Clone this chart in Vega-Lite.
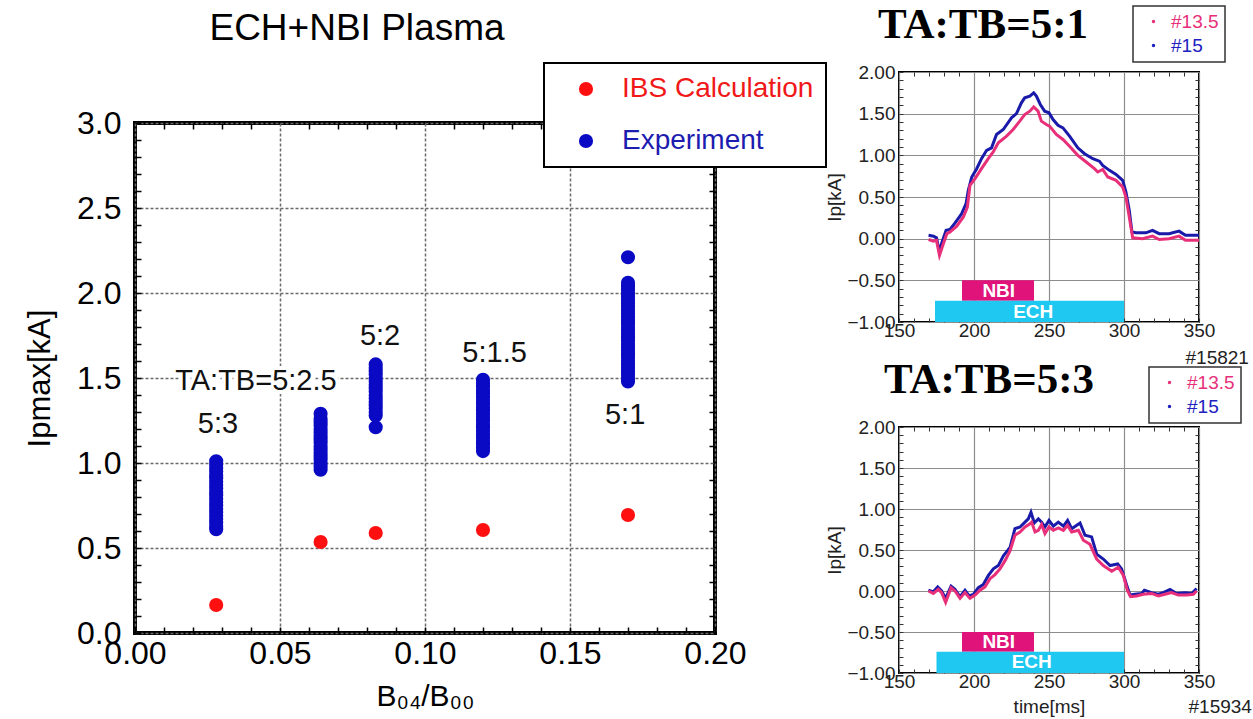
{
  "$schema": "https://vega.github.io/schema/vega-lite/v6.json",
  "background": "white",
  "padding": {"left": 22, "top": 3, "right": 5, "bottom": 5},
  "bounds": "flush",
  "spacing": 764,
  "resolve": {"scale": {"color": "independent", "fill": "independent"}, "legend": {"color": "independent"}},
  "datasets": {
    "scan": [
      {"b": 0.028, "ip": 0.165, "kind": "IBS Calculation"},
      {"b": 0.064, "ip": 0.535, "kind": "IBS Calculation"},
      {"b": 0.083, "ip": 0.588, "kind": "IBS Calculation"},
      {"b": 0.12, "ip": 0.606, "kind": "IBS Calculation"},
      {"b": 0.17, "ip": 0.694, "kind": "IBS Calculation"},
      {"b": 0.028, "ip": 0.61, "kind": "Experiment"}, {"b": 0.028, "ip": 0.63, "kind": "Experiment"}, {"b": 0.028, "ip": 0.65, "kind": "Experiment"},
      {"b": 0.028, "ip": 0.67, "kind": "Experiment"}, {"b": 0.028, "ip": 0.69, "kind": "Experiment"}, {"b": 0.028, "ip": 0.71, "kind": "Experiment"},
      {"b": 0.028, "ip": 0.73, "kind": "Experiment"}, {"b": 0.028, "ip": 0.75, "kind": "Experiment"}, {"b": 0.028, "ip": 0.77, "kind": "Experiment"},
      {"b": 0.028, "ip": 0.79, "kind": "Experiment"}, {"b": 0.028, "ip": 0.81, "kind": "Experiment"}, {"b": 0.028, "ip": 0.83, "kind": "Experiment"},
      {"b": 0.028, "ip": 0.85, "kind": "Experiment"}, {"b": 0.028, "ip": 0.87, "kind": "Experiment"}, {"b": 0.028, "ip": 0.89, "kind": "Experiment"},
      {"b": 0.028, "ip": 0.91, "kind": "Experiment"}, {"b": 0.028, "ip": 0.93, "kind": "Experiment"}, {"b": 0.028, "ip": 0.95, "kind": "Experiment"},
      {"b": 0.028, "ip": 0.97, "kind": "Experiment"}, {"b": 0.028, "ip": 0.99, "kind": "Experiment"}, {"b": 0.028, "ip": 1.01, "kind": "Experiment"},
      {"b": 0.064, "ip": 0.96, "kind": "Experiment"}, {"b": 0.064, "ip": 0.98, "kind": "Experiment"}, {"b": 0.064, "ip": 1.0, "kind": "Experiment"},
      {"b": 0.064, "ip": 1.02, "kind": "Experiment"}, {"b": 0.064, "ip": 1.04, "kind": "Experiment"}, {"b": 0.064, "ip": 1.06, "kind": "Experiment"},
      {"b": 0.064, "ip": 1.08, "kind": "Experiment"}, {"b": 0.064, "ip": 1.1, "kind": "Experiment"}, {"b": 0.064, "ip": 1.12, "kind": "Experiment"},
      {"b": 0.064, "ip": 1.14, "kind": "Experiment"}, {"b": 0.064, "ip": 1.16, "kind": "Experiment"}, {"b": 0.064, "ip": 1.18, "kind": "Experiment"},
      {"b": 0.064, "ip": 1.2, "kind": "Experiment"}, {"b": 0.064, "ip": 1.22, "kind": "Experiment"}, {"b": 0.064, "ip": 1.24, "kind": "Experiment"},
      {"b": 0.064, "ip": 1.26, "kind": "Experiment"}, {"b": 0.064, "ip": 1.29, "kind": "Experiment"},
      {"b": 0.083, "ip": 1.21, "kind": "Experiment"}, {"b": 0.083, "ip": 1.28, "kind": "Experiment"}, {"b": 0.083, "ip": 1.3, "kind": "Experiment"},
      {"b": 0.083, "ip": 1.32, "kind": "Experiment"}, {"b": 0.083, "ip": 1.34, "kind": "Experiment"}, {"b": 0.083, "ip": 1.36, "kind": "Experiment"},
      {"b": 0.083, "ip": 1.38, "kind": "Experiment"}, {"b": 0.083, "ip": 1.4, "kind": "Experiment"}, {"b": 0.083, "ip": 1.42, "kind": "Experiment"},
      {"b": 0.083, "ip": 1.44, "kind": "Experiment"}, {"b": 0.083, "ip": 1.46, "kind": "Experiment"}, {"b": 0.083, "ip": 1.48, "kind": "Experiment"},
      {"b": 0.083, "ip": 1.5, "kind": "Experiment"}, {"b": 0.083, "ip": 1.52, "kind": "Experiment"}, {"b": 0.083, "ip": 1.54, "kind": "Experiment"},
      {"b": 0.083, "ip": 1.56, "kind": "Experiment"}, {"b": 0.083, "ip": 1.58, "kind": "Experiment"},
      {"b": 0.12, "ip": 1.07, "kind": "Experiment"}, {"b": 0.12, "ip": 1.09, "kind": "Experiment"}, {"b": 0.12, "ip": 1.11, "kind": "Experiment"},
      {"b": 0.12, "ip": 1.13, "kind": "Experiment"}, {"b": 0.12, "ip": 1.15, "kind": "Experiment"}, {"b": 0.12, "ip": 1.17, "kind": "Experiment"},
      {"b": 0.12, "ip": 1.19, "kind": "Experiment"}, {"b": 0.12, "ip": 1.21, "kind": "Experiment"}, {"b": 0.12, "ip": 1.23, "kind": "Experiment"},
      {"b": 0.12, "ip": 1.25, "kind": "Experiment"}, {"b": 0.12, "ip": 1.27, "kind": "Experiment"}, {"b": 0.12, "ip": 1.29, "kind": "Experiment"},
      {"b": 0.12, "ip": 1.31, "kind": "Experiment"}, {"b": 0.12, "ip": 1.33, "kind": "Experiment"}, {"b": 0.12, "ip": 1.35, "kind": "Experiment"},
      {"b": 0.12, "ip": 1.37, "kind": "Experiment"}, {"b": 0.12, "ip": 1.39, "kind": "Experiment"}, {"b": 0.12, "ip": 1.41, "kind": "Experiment"},
      {"b": 0.12, "ip": 1.43, "kind": "Experiment"}, {"b": 0.12, "ip": 1.45, "kind": "Experiment"}, {"b": 0.12, "ip": 1.47, "kind": "Experiment"},
      {"b": 0.12, "ip": 1.49, "kind": "Experiment"},
      {"b": 0.17, "ip": 1.48, "kind": "Experiment"}, {"b": 0.17, "ip": 1.5, "kind": "Experiment"}, {"b": 0.17, "ip": 1.52, "kind": "Experiment"},
      {"b": 0.17, "ip": 1.54, "kind": "Experiment"}, {"b": 0.17, "ip": 1.56, "kind": "Experiment"}, {"b": 0.17, "ip": 1.58, "kind": "Experiment"},
      {"b": 0.17, "ip": 1.6, "kind": "Experiment"}, {"b": 0.17, "ip": 1.62, "kind": "Experiment"}, {"b": 0.17, "ip": 1.64, "kind": "Experiment"},
      {"b": 0.17, "ip": 1.66, "kind": "Experiment"}, {"b": 0.17, "ip": 1.68, "kind": "Experiment"}, {"b": 0.17, "ip": 1.7, "kind": "Experiment"},
      {"b": 0.17, "ip": 1.72, "kind": "Experiment"}, {"b": 0.17, "ip": 1.74, "kind": "Experiment"}, {"b": 0.17, "ip": 1.76, "kind": "Experiment"},
      {"b": 0.17, "ip": 1.78, "kind": "Experiment"}, {"b": 0.17, "ip": 1.8, "kind": "Experiment"}, {"b": 0.17, "ip": 1.82, "kind": "Experiment"},
      {"b": 0.17, "ip": 1.84, "kind": "Experiment"}, {"b": 0.17, "ip": 1.86, "kind": "Experiment"}, {"b": 0.17, "ip": 1.88, "kind": "Experiment"},
      {"b": 0.17, "ip": 1.9, "kind": "Experiment"}, {"b": 0.17, "ip": 1.92, "kind": "Experiment"}, {"b": 0.17, "ip": 1.94, "kind": "Experiment"},
      {"b": 0.17, "ip": 1.96, "kind": "Experiment"}, {"b": 0.17, "ip": 1.98, "kind": "Experiment"}, {"b": 0.17, "ip": 2.0, "kind": "Experiment"},
      {"b": 0.17, "ip": 2.02, "kind": "Experiment"}, {"b": 0.17, "ip": 2.04, "kind": "Experiment"}, {"b": 0.17, "ip": 2.06, "kind": "Experiment"},
      {"b": 0.17, "ip": 2.21, "kind": "Experiment"}
    ],
    "ratios": [
      {"b": 0.0286, "ip": 1.23, "txt": "5:3"},
      {"b": 0.0417, "ip": 1.48, "txt": "TA:TB=5:2.5"},
      {"b": 0.0845, "ip": 1.75, "txt": "5:2"},
      {"b": 0.124, "ip": 1.65, "txt": "5:1.5"},
      {"b": 0.169, "ip": 1.28, "txt": "5:1"}
    ],
    "shot51": [
      {"t": 169.7, "v": 0.04, "shot": "#15"}, {"t": 173, "v": 0.03, "shot": "#15"}, {"t": 175, "v": 0.01, "shot": "#15"},
      {"t": 177, "v": -0.16, "shot": "#15"}, {"t": 178.5, "v": -0.05, "shot": "#15"}, {"t": 181.4, "v": 0.1, "shot": "#15"},
      {"t": 184, "v": 0.11, "shot": "#15"}, {"t": 187.4, "v": 0.19, "shot": "#15"}, {"t": 191.8, "v": 0.3, "shot": "#15"},
      {"t": 194.7, "v": 0.42, "shot": "#15"}, {"t": 196.2, "v": 0.58, "shot": "#15"}, {"t": 198.5, "v": 0.74, "shot": "#15"},
      {"t": 201.8, "v": 0.84, "shot": "#15"}, {"t": 205, "v": 0.96, "shot": "#15"}, {"t": 208.4, "v": 1.06, "shot": "#15"},
      {"t": 211.7, "v": 1.09, "shot": "#15"}, {"t": 215, "v": 1.25, "shot": "#15"}, {"t": 219.5, "v": 1.31, "shot": "#15"},
      {"t": 225, "v": 1.45, "shot": "#15"}, {"t": 228.3, "v": 1.5, "shot": "#15"}, {"t": 231.6, "v": 1.63, "shot": "#15"},
      {"t": 233.8, "v": 1.69, "shot": "#15"}, {"t": 237.2, "v": 1.71, "shot": "#15"}, {"t": 239.8, "v": 1.75, "shot": "#15"},
      {"t": 241.6, "v": 1.71, "shot": "#15"}, {"t": 244.2, "v": 1.61, "shot": "#15"}, {"t": 247.1, "v": 1.53, "shot": "#15"},
      {"t": 250, "v": 1.51, "shot": "#15"}, {"t": 252.7, "v": 1.43, "shot": "#15"}, {"t": 256, "v": 1.36, "shot": "#15"},
      {"t": 259.3, "v": 1.33, "shot": "#15"}, {"t": 263.7, "v": 1.23, "shot": "#15"}, {"t": 269.2, "v": 1.09, "shot": "#15"},
      {"t": 273.7, "v": 1.02, "shot": "#15"}, {"t": 279.2, "v": 0.96, "shot": "#15"}, {"t": 283.6, "v": 0.93, "shot": "#15"},
      {"t": 285.8, "v": 0.88, "shot": "#15"}, {"t": 290.3, "v": 0.82, "shot": "#15"}, {"t": 294.7, "v": 0.77, "shot": "#15"},
      {"t": 299.1, "v": 0.7, "shot": "#15"}, {"t": 301.3, "v": 0.56, "shot": "#15"}, {"t": 303.5, "v": 0.34, "shot": "#15"},
      {"t": 305.3, "v": 0.08, "shot": "#15"}, {"t": 308, "v": 0.07, "shot": "#15"}, {"t": 314.6, "v": 0.07, "shot": "#15"},
      {"t": 319, "v": 0.1, "shot": "#15"}, {"t": 323.5, "v": 0.06, "shot": "#15"}, {"t": 330, "v": 0.06, "shot": "#15"},
      {"t": 336.7, "v": 0.09, "shot": "#15"}, {"t": 341, "v": 0.04, "shot": "#15"}, {"t": 350, "v": 0.04, "shot": "#15"},
      {"t": 169.7, "v": -0.01, "shot": "#13.5"}, {"t": 173, "v": -0.03, "shot": "#13.5"}, {"t": 175, "v": -0.02, "shot": "#13.5"},
      {"t": 177, "v": -0.2, "shot": "#13.5"}, {"t": 179, "v": -0.09, "shot": "#13.5"}, {"t": 181.9, "v": 0.06, "shot": "#13.5"},
      {"t": 184, "v": 0.08, "shot": "#13.5"}, {"t": 188.5, "v": 0.15, "shot": "#13.5"}, {"t": 192.9, "v": 0.26, "shot": "#13.5"},
      {"t": 195.6, "v": 0.38, "shot": "#13.5"}, {"t": 197.3, "v": 0.64, "shot": "#13.5"}, {"t": 200.7, "v": 0.72, "shot": "#13.5"},
      {"t": 205, "v": 0.84, "shot": "#13.5"}, {"t": 209.5, "v": 0.96, "shot": "#13.5"}, {"t": 212.8, "v": 1.04, "shot": "#13.5"},
      {"t": 216.2, "v": 1.15, "shot": "#13.5"}, {"t": 221.7, "v": 1.23, "shot": "#13.5"}, {"t": 226.1, "v": 1.31, "shot": "#13.5"},
      {"t": 230.5, "v": 1.41, "shot": "#13.5"}, {"t": 233.8, "v": 1.49, "shot": "#13.5"}, {"t": 237.2, "v": 1.53, "shot": "#13.5"},
      {"t": 239.8, "v": 1.58, "shot": "#13.5"}, {"t": 242.7, "v": 1.53, "shot": "#13.5"}, {"t": 244.9, "v": 1.41, "shot": "#13.5"},
      {"t": 248.2, "v": 1.37, "shot": "#13.5"}, {"t": 250.4, "v": 1.35, "shot": "#13.5"}, {"t": 254.9, "v": 1.25, "shot": "#13.5"},
      {"t": 259.3, "v": 1.19, "shot": "#13.5"}, {"t": 263.7, "v": 1.11, "shot": "#13.5"}, {"t": 269.2, "v": 1.0, "shot": "#13.5"},
      {"t": 274.8, "v": 0.92, "shot": "#13.5"}, {"t": 280.3, "v": 0.84, "shot": "#13.5"}, {"t": 282.5, "v": 0.8, "shot": "#13.5"},
      {"t": 285.8, "v": 0.83, "shot": "#13.5"}, {"t": 289.2, "v": 0.74, "shot": "#13.5"}, {"t": 294.7, "v": 0.7, "shot": "#13.5"},
      {"t": 299.1, "v": 0.62, "shot": "#13.5"}, {"t": 301.3, "v": 0.5, "shot": "#13.5"}, {"t": 303.5, "v": 0.26, "shot": "#13.5"},
      {"t": 305.8, "v": 0.01, "shot": "#13.5"}, {"t": 312.4, "v": 0.0, "shot": "#13.5"}, {"t": 319, "v": 0.03, "shot": "#13.5"},
      {"t": 323.5, "v": -0.01, "shot": "#13.5"}, {"t": 330, "v": 0.0, "shot": "#13.5"}, {"t": 336.7, "v": 0.03, "shot": "#13.5"},
      {"t": 341, "v": -0.02, "shot": "#13.5"}, {"t": 350, "v": -0.02, "shot": "#13.5"}
    ],
    "shot53": [
      {"t": 169.6, "v": 0.01, "shot": "#15"}, {"t": 172.9, "v": -0.01, "shot": "#15"}, {"t": 175.8, "v": 0.05, "shot": "#15"},
      {"t": 178.4, "v": 0.0, "shot": "#15"}, {"t": 181.1, "v": -0.09, "shot": "#15"}, {"t": 184.7, "v": 0.06, "shot": "#15"},
      {"t": 187.3, "v": 0.02, "shot": "#15"}, {"t": 190.7, "v": -0.07, "shot": "#15"}, {"t": 194, "v": 0.01, "shot": "#15"},
      {"t": 196.7, "v": -0.06, "shot": "#15"}, {"t": 199.6, "v": -0.04, "shot": "#15"}, {"t": 202.9, "v": 0.04, "shot": "#15"},
      {"t": 206.2, "v": 0.08, "shot": "#15"}, {"t": 209.6, "v": 0.19, "shot": "#15"}, {"t": 212.9, "v": 0.27, "shot": "#15"},
      {"t": 216.2, "v": 0.31, "shot": "#15"}, {"t": 219.6, "v": 0.43, "shot": "#15"}, {"t": 224, "v": 0.53, "shot": "#15"},
      {"t": 227.3, "v": 0.76, "shot": "#15"}, {"t": 230.7, "v": 0.78, "shot": "#15"}, {"t": 234, "v": 0.84, "shot": "#15"},
      {"t": 236.2, "v": 0.88, "shot": "#15"}, {"t": 238, "v": 0.96, "shot": "#15"}, {"t": 240.2, "v": 0.83, "shot": "#15"},
      {"t": 242.9, "v": 0.88, "shot": "#15"}, {"t": 245.1, "v": 0.84, "shot": "#15"}, {"t": 247.3, "v": 0.78, "shot": "#15"},
      {"t": 250, "v": 0.86, "shot": "#15"}, {"t": 252.9, "v": 0.79, "shot": "#15"}, {"t": 256.2, "v": 0.84, "shot": "#15"},
      {"t": 259.6, "v": 0.79, "shot": "#15"}, {"t": 262.4, "v": 0.86, "shot": "#15"}, {"t": 265.1, "v": 0.76, "shot": "#15"},
      {"t": 270.7, "v": 0.83, "shot": "#15"}, {"t": 274, "v": 0.68, "shot": "#15"}, {"t": 278.4, "v": 0.66, "shot": "#15"},
      {"t": 281.8, "v": 0.45, "shot": "#15"}, {"t": 286.2, "v": 0.39, "shot": "#15"}, {"t": 290.7, "v": 0.31, "shot": "#15"},
      {"t": 295.8, "v": 0.33, "shot": "#15"}, {"t": 298.4, "v": 0.27, "shot": "#15"}, {"t": 301.8, "v": 0.07, "shot": "#15"},
      {"t": 304, "v": -0.05, "shot": "#15"}, {"t": 307.3, "v": -0.04, "shot": "#15"}, {"t": 311.8, "v": -0.03, "shot": "#15"},
      {"t": 313.6, "v": 0.01, "shot": "#15"}, {"t": 318.4, "v": -0.02, "shot": "#15"}, {"t": 322.9, "v": -0.04, "shot": "#15"},
      {"t": 326.2, "v": -0.02, "shot": "#15"}, {"t": 330.7, "v": 0.02, "shot": "#15"}, {"t": 335.1, "v": -0.03, "shot": "#15"},
      {"t": 340.7, "v": -0.02, "shot": "#15"}, {"t": 345.1, "v": -0.03, "shot": "#15"}, {"t": 348.4, "v": 0.03, "shot": "#15"},
      {"t": 169.6, "v": 0.0, "shot": "#13.5"}, {"t": 172.9, "v": -0.03, "shot": "#13.5"}, {"t": 176.2, "v": 0.02, "shot": "#13.5"},
      {"t": 178.4, "v": -0.02, "shot": "#13.5"}, {"t": 181.1, "v": -0.14, "shot": "#13.5"}, {"t": 184.7, "v": 0.04, "shot": "#13.5"},
      {"t": 187.3, "v": 0.0, "shot": "#13.5"}, {"t": 190.7, "v": -0.09, "shot": "#13.5"}, {"t": 194, "v": -0.02, "shot": "#13.5"},
      {"t": 197.3, "v": -0.09, "shot": "#13.5"}, {"t": 200.7, "v": -0.05, "shot": "#13.5"}, {"t": 204, "v": 0.01, "shot": "#13.5"},
      {"t": 207.3, "v": 0.05, "shot": "#13.5"}, {"t": 210.7, "v": 0.15, "shot": "#13.5"}, {"t": 214, "v": 0.2, "shot": "#13.5"},
      {"t": 217.3, "v": 0.27, "shot": "#13.5"}, {"t": 220.7, "v": 0.37, "shot": "#13.5"}, {"t": 224, "v": 0.49, "shot": "#13.5"},
      {"t": 227.3, "v": 0.68, "shot": "#13.5"}, {"t": 230.7, "v": 0.72, "shot": "#13.5"}, {"t": 234, "v": 0.78, "shot": "#13.5"},
      {"t": 237.3, "v": 0.82, "shot": "#13.5"}, {"t": 238.4, "v": 0.84, "shot": "#13.5"}, {"t": 240.7, "v": 0.72, "shot": "#13.5"},
      {"t": 242.9, "v": 0.74, "shot": "#13.5"}, {"t": 245.1, "v": 0.81, "shot": "#13.5"}, {"t": 247.3, "v": 0.7, "shot": "#13.5"},
      {"t": 250, "v": 0.78, "shot": "#13.5"}, {"t": 252.9, "v": 0.74, "shot": "#13.5"}, {"t": 256.2, "v": 0.77, "shot": "#13.5"},
      {"t": 259.6, "v": 0.74, "shot": "#13.5"}, {"t": 262.4, "v": 0.8, "shot": "#13.5"}, {"t": 265.1, "v": 0.72, "shot": "#13.5"},
      {"t": 269.6, "v": 0.74, "shot": "#13.5"}, {"t": 272.9, "v": 0.62, "shot": "#13.5"}, {"t": 277.3, "v": 0.57, "shot": "#13.5"},
      {"t": 281.8, "v": 0.39, "shot": "#13.5"}, {"t": 286.2, "v": 0.31, "shot": "#13.5"}, {"t": 291.8, "v": 0.24, "shot": "#13.5"},
      {"t": 296.2, "v": 0.29, "shot": "#13.5"}, {"t": 299.6, "v": 0.19, "shot": "#13.5"}, {"t": 302.2, "v": 0.01, "shot": "#13.5"},
      {"t": 304.4, "v": -0.07, "shot": "#13.5"}, {"t": 308.4, "v": -0.06, "shot": "#13.5"}, {"t": 312.9, "v": -0.04, "shot": "#13.5"},
      {"t": 318.4, "v": -0.03, "shot": "#13.5"}, {"t": 322.9, "v": -0.06, "shot": "#13.5"}, {"t": 327.3, "v": -0.04, "shot": "#13.5"},
      {"t": 331.8, "v": -0.02, "shot": "#13.5"}, {"t": 336.2, "v": -0.05, "shot": "#13.5"}, {"t": 341.8, "v": -0.05, "shot": "#13.5"},
      {"t": 346.2, "v": -0.04, "shot": "#13.5"}, {"t": 348.4, "v": 0.0, "shot": "#13.5"}
    ],
    "heat51": [
      {"band": "NBI", "t0": 192, "t1": 240, "v0": -0.5, "v1": -0.745, "tm": 216.5, "vm": -0.63},
      {"band": "ECH", "t0": 174, "t1": 300, "v0": -0.745, "v1": -1.0, "tm": 239.5, "vm": -0.88}
    ],
    "heat53": [
      {"band": "NBI", "t0": 192, "t1": 240, "v0": -0.5, "v1": -0.74, "tm": 216.5, "vm": -0.62},
      {"band": "ECH", "t0": 175, "t1": 300, "v0": -0.74, "v1": -1.0, "tm": 238.5, "vm": -0.87}
    ]
  },
  "hconcat": [
    {
      "bounds": "flush",
      "spacing": 0,
      "vconcat": [
        {
          "width": 580,
          "height": 51,
          "view": {"stroke": null},
          "data": {"values": [{}]},
          "mark": {"type": "point", "opacity": 0},
          "encoding": {}
        },
        {
          "width": 580,
          "height": 510,
          "view": {"stroke": "black", "strokeWidth": 4},
          "title": {"text": "ECH+NBI Plasma", "font": "Liberation Sans", "fontSize": 37, "fontWeight": "normal", "color": "black", "anchor": "middle", "dx": -68, "offset": 30, "frame": "group", "baseline": "alphabetic"},
          "resolve": {"axis": {"x": "independent", "y": "independent"}},
          "layer": [
            {
              "data": {"name": "scan"},
              "mark": {"type": "circle", "size": 200, "opacity": 1},
              "encoding": {
                "x": {"field": "b", "type": "quantitative", "scale": {"domain": [0, 0.2], "nice": false, "zero": false},
                  "axis": {"orient": "bottom", "values": [0, 0.01, 0.02, 0.03, 0.04, 0.05, 0.06, 0.07, 0.08, 0.09, 0.1, 0.11, 0.12, 0.13, 0.14, 0.15, 0.16, 0.17, 0.18, 0.19, 0.2],
                    "labelExpr": "abs(datum.value*20-round(datum.value*20))<0.001 ? format(datum.value,'.2f') : ''",
                    "labelFont": "Liberation Sans", "labelFontSize": 32, "labelColor": "black", "labelPadding": 11, "labelFlush": false,
                    "tickSize": -6, "tickColor": "black", "tickWidth": 1.5, "domain": false,
                    "grid": true, "gridColor": "#6a6a6a", "gridDash": [3, 2], "gridWidth": 1.5,
                    "gridOpacity": {"condition": {"test": "abs(datum.value*20-round(datum.value*20))<0.001", "value": 1}, "value": 0},
                    "title": "B₀₄/B₀₀", "titleFont": "Liberation Sans", "titleFontSize": 30, "titleFontWeight": "normal", "titleColor": "black", "titlePadding": 12}},
                "y": {"field": "ip", "type": "quantitative", "scale": {"domain": [0, 3], "nice": false, "zero": false},
                  "axis": {"orient": "left", "values": [0, 0.1, 0.2, 0.3, 0.4, 0.5, 0.6, 0.7, 0.8, 0.9, 1, 1.1, 1.2, 1.3, 1.4, 1.5, 1.6, 1.7, 1.8, 1.9, 2, 2.1, 2.2, 2.3, 2.4, 2.5, 2.6, 2.7, 2.8, 2.9, 3],
                    "labelExpr": "abs(datum.value*2-round(datum.value*2))<0.001 ? format(datum.value,'.1f') : ''",
                    "labelFont": "Liberation Sans", "labelFontSize": 32, "labelColor": "black", "labelPadding": 20, "labelFlush": false,
                    "tickSize": -6, "tickColor": "black", "tickWidth": 1.5, "domain": false,
                    "grid": true, "gridColor": "#6a6a6a", "gridDash": [3, 2], "gridWidth": 1.5,
                    "gridOpacity": {"condition": {"test": "abs(datum.value*2-round(datum.value*2))<0.001", "value": 1}, "value": 0},
                    "title": "Ipmax[kA]", "titleFont": "Liberation Sans", "titleFontSize": 31, "titleFontWeight": "normal", "titleColor": "black", "titlePadding": 20}},
                "color": {"field": "kind", "type": "nominal",
                  "scale": {"domain": ["IBS Calculation", "Experiment"], "range": ["#ff1010", "#0a0ac4"]},
                  "legend": {"orient": "none", "legendX": 409, "legendY": -9, "title": null,
                    "fillColor": "white", "strokeColor": "black", "padding": 12,
                    "labelFont": "Liberation Sans", "labelFontSize": 28, "labelOffset": 22, "rowPadding": 24, "labelLimit": 400,
                    "symbolType": "circle", "symbolSize": 200, "symbolOffset": 16, "symbolOpacity": 1,
                    "encode": {
                      "legend": {"update": {"strokeWidth": {"value": 2}}},
                      "labels": {"update": {"fill": {"signal": "datum.value === 'Experiment' ? '#1c1cb0' : '#f01818'"}}}}}}
              }
            },
            {
              "data": {"name": "ratios"},
              "mark": {"type": "text", "font": "Liberation Sans", "fontSize": 29, "stroke": "white", "strokeWidth": 8, "fill": "white", "baseline": "middle"},
              "encoding": {
                "x": {"field": "b", "type": "quantitative", "scale": {"domain": [0, 0.2], "nice": false, "zero": false},
                  "axis": {"orient": "top", "values": [0.01, 0.02, 0.03, 0.04, 0.06, 0.07, 0.08, 0.09, 0.11, 0.12, 0.13, 0.14, 0.16, 0.17, 0.18, 0.19],
                    "labels": false, "tickSize": -6, "tickColor": "black", "tickWidth": 1.5, "domain": false, "grid": false, "title": null}},
                "y": {"field": "ip", "type": "quantitative", "scale": {"domain": [0, 3], "nice": false, "zero": false},
                  "axis": {"orient": "right", "values": [0.1, 0.2, 0.3, 0.4, 0.6, 0.7, 0.8, 0.9, 1.1, 1.2, 1.3, 1.4, 1.6, 1.7, 1.8, 1.9, 2.1, 2.2, 2.3, 2.4, 2.6, 2.7, 2.8, 2.9],
                    "labels": false, "tickSize": -6, "tickColor": "black", "tickWidth": 1.5, "domain": false, "grid": false, "title": null}},
                "text": {"field": "txt"}
              }
            },
            {
              "data": {"name": "ratios"},
              "mark": {"type": "text", "font": "Liberation Sans", "fontSize": 29, "fill": "#111111", "baseline": "middle"},
              "encoding": {
                "x": {"field": "b", "type": "quantitative", "scale": {"domain": [0, 0.2], "nice": false, "zero": false}, "axis": null},
                "y": {"field": "ip", "type": "quantitative", "scale": {"domain": [0, 3], "nice": false, "zero": false}, "axis": null},
                "text": {"field": "txt"}
              }
            }
          ]
        }
      ]
    },
    {
      "bounds": "flush",
      "spacing": 105,
      "resolve": {"scale": {"color": "independent", "fill": "independent"}, "legend": {"color": "independent"}},
      "vconcat": [
        {
          "width": 300,
          "height": 250,
          "view": {"stroke": "black", "strokeWidth": 2},
          "title": {"text": "TA:TB=5:1", "font": "Liberation Serif", "fontSize": 43, "fontWeight": "bold", "color": "black", "anchor": "start", "dx": -21, "offset": -76, "frame": "group", "baseline": "alphabetic"},
          "resolve": {"axis": {"x": "independent", "y": "independent"}},
          "layer": [
            {
              "data": {"name": "heat51"},
              "mark": {"type": "rect"},
              "encoding": {
                "x": {"field": "t0", "type": "quantitative", "scale": {"domain": [150, 350], "nice": false, "zero": false}, "axis": null},
                "x2": {"field": "t1"},
                "y": {"field": "v0", "type": "quantitative", "scale": {"domain": [-1, 2], "nice": false, "zero": false}, "axis": null},
                "y2": {"field": "v1"},
                "fill": {"field": "band", "type": "nominal", "scale": {"domain": ["NBI", "ECH"], "range": ["#e0137a", "#1ec8f0"]}, "legend": null}
              }
            },
            {
              "data": {"name": "heat51"},
              "mark": {"type": "text", "font": "Liberation Sans", "fontSize": 19, "fontWeight": "bold", "fill": "white", "baseline": "middle"},
              "encoding": {
                "x": {"field": "tm", "type": "quantitative", "scale": {"domain": [150, 350], "nice": false, "zero": false},
                  "axis": {"orient": "top", "values": [160, 170, 180, 190, 210, 220, 230, 240, 260, 270, 280, 290, 310, 320, 330, 340],
                    "labels": false, "tickSize": -4, "tickColor": "#333333", "domain": false, "grid": false, "title": null}},
                "y": {"field": "vm", "type": "quantitative", "scale": {"domain": [-1, 2], "nice": false, "zero": false},
                  "axis": {"orient": "right", "values": [-0.9, -0.8, -0.7, -0.6, -0.4, -0.3, -0.2, -0.1, 0.1, 0.2, 0.3, 0.4, 0.6, 0.7, 0.8, 0.9, 1.1, 1.2, 1.3, 1.4, 1.6, 1.7, 1.8, 1.9],
                    "labels": false, "tickSize": -4, "tickColor": "#333333", "domain": false, "grid": false, "title": null}},
                "text": {"field": "band"}
              }
            },
            {
              "data": {"name": "shot51"},
              "mark": {"type": "line", "strokeWidth": 3, "interpolate": "linear"},
              "encoding": {
                "x": {"field": "t", "type": "quantitative", "scale": {"domain": [150, 350], "nice": false, "zero": false},
                  "axis": {"orient": "bottom", "values": [150, 160, 170, 180, 190, 200, 210, 220, 230, 240, 250, 260, 270, 280, 290, 300, 310, 320, 330, 340, 350],
                    "labelExpr": "datum.value % 50 === 0 ? format(datum.value,'d') : ''",
                    "labelFont": "Liberation Sans", "labelFontSize": 19, "labelColor": "#222222", "labelPadding": 3, "labelFlush": false,
                    "tickSize": -4, "tickColor": "#333333", "domain": false,
                    "grid": true, "gridColor": "#8c8c8c", "gridWidth": 1.2,
                    "gridOpacity": {"condition": {"test": "datum.value % 50 === 0", "value": 1}, "value": 0},
                    "title": null}},
                "y": {"field": "v", "type": "quantitative", "scale": {"domain": [-1, 2], "nice": false, "zero": false},
                  "axis": {"orient": "left", "values": [-1, -0.9, -0.8, -0.7, -0.6, -0.5, -0.4, -0.3, -0.2, -0.1, 0, 0.1, 0.2, 0.3, 0.4, 0.5, 0.6, 0.7, 0.8, 0.9, 1, 1.1, 1.2, 1.3, 1.4, 1.5, 1.6, 1.7, 1.8, 1.9, 2],
                    "labelExpr": "abs(datum.value*2-round(datum.value*2))<0.001 ? format(datum.value,'.2f') : ''",
                    "labelFont": "Liberation Sans", "labelFontSize": 19, "labelColor": "#222222", "labelPadding": 8, "labelFlush": false,
                    "tickSize": -4, "tickColor": "#333333", "domain": false,
                    "grid": true, "gridColor": "#8c8c8c", "gridWidth": 1.2,
                    "gridOpacity": {"condition": {"test": "abs(datum.value*2-round(datum.value*2))<0.001", "value": 1}, "value": 0},
                    "title": "Ip[kA]", "titleFont": "Liberation Sans", "titleFontSize": 19, "titleFontWeight": "normal", "titleColor": "#222222", "titlePadding": 2}},
                "color": {"field": "shot", "type": "nominal",
                  "scale": {"domain": ["#13.5", "#15"], "range": ["#e8307a", "#1a1aaa"]},
                  "legend": {"orient": "none", "legendX": 234, "legendY": -66, "title": null,
                    "fillColor": "white", "strokeColor": "#333333", "padding": 6,
                    "labelFont": "Liberation Sans", "labelFontSize": 19, "labelOffset": 8, "rowPadding": 4,
                    "symbolType": "circle", "symbolSize": 12, "symbolOffset": 5, "symbolStrokeWidth": 0,
                    "encode": {
                      "legend": {"update": {"strokeWidth": {"value": 1.5}}},
                      "labels": {"update": {"fill": {"signal": "datum.value === '#15' ? '#2020c0' : '#e8307a'"}}},
                      "symbols": {"update": {"fill": {"signal": "datum.value === '#15' ? '#2020c0' : '#e8307a'"}}}}}}
              }
            },
            {
              "data": {"values": [{"t": 341, "v": -1.43, "lab": "#15821"}]},
              "mark": {"type": "text", "font": "Liberation Sans", "fontSize": 19, "fill": "#222222", "align": "left", "baseline": "middle"},
              "encoding": {
                "x": {"field": "t", "type": "quantitative", "scale": {"domain": [150, 350], "nice": false, "zero": false}, "axis": null},
                "y": {"field": "v", "type": "quantitative", "scale": {"domain": [-1, 2], "nice": false, "zero": false}, "axis": null},
                "text": {"field": "lab"}
              }
            }
          ]
        },
        {
          "width": 300,
          "height": 246,
          "view": {"stroke": "black", "strokeWidth": 2},
          "title": {"text": "TA:TB=5:3", "font": "Liberation Serif", "fontSize": 43, "fontWeight": "bold", "color": "black", "anchor": "start", "dx": -15, "offset": -70, "frame": "group", "baseline": "alphabetic"},
          "resolve": {"axis": {"x": "independent", "y": "independent"}},
          "layer": [
            {
              "data": {"name": "heat53"},
              "mark": {"type": "rect"},
              "encoding": {
                "x": {"field": "t0", "type": "quantitative", "scale": {"domain": [150, 350], "nice": false, "zero": false}, "axis": null},
                "x2": {"field": "t1"},
                "y": {"field": "v0", "type": "quantitative", "scale": {"domain": [-1, 2], "nice": false, "zero": false}, "axis": null},
                "y2": {"field": "v1"},
                "fill": {"field": "band", "type": "nominal", "scale": {"domain": ["NBI", "ECH"], "range": ["#e0137a", "#1ec8f0"]}, "legend": null}
              }
            },
            {
              "data": {"name": "heat53"},
              "mark": {"type": "text", "font": "Liberation Sans", "fontSize": 19, "fontWeight": "bold", "fill": "white", "baseline": "middle"},
              "encoding": {
                "x": {"field": "tm", "type": "quantitative", "scale": {"domain": [150, 350], "nice": false, "zero": false},
                  "axis": {"orient": "top", "values": [160, 170, 180, 190, 210, 220, 230, 240, 260, 270, 280, 290, 310, 320, 330, 340],
                    "labels": false, "tickSize": -4, "tickColor": "#333333", "domain": false, "grid": false, "title": null}},
                "y": {"field": "vm", "type": "quantitative", "scale": {"domain": [-1, 2], "nice": false, "zero": false},
                  "axis": {"orient": "right", "values": [-0.9, -0.8, -0.7, -0.6, -0.4, -0.3, -0.2, -0.1, 0.1, 0.2, 0.3, 0.4, 0.6, 0.7, 0.8, 0.9, 1.1, 1.2, 1.3, 1.4, 1.6, 1.7, 1.8, 1.9],
                    "labels": false, "tickSize": -4, "tickColor": "#333333", "domain": false, "grid": false, "title": null}},
                "text": {"field": "band"}
              }
            },
            {
              "data": {"name": "shot53"},
              "mark": {"type": "line", "strokeWidth": 3, "interpolate": "linear"},
              "encoding": {
                "x": {"field": "t", "type": "quantitative", "scale": {"domain": [150, 350], "nice": false, "zero": false},
                  "axis": {"orient": "bottom", "values": [150, 160, 170, 180, 190, 200, 210, 220, 230, 240, 250, 260, 270, 280, 290, 300, 310, 320, 330, 340, 350],
                    "labelExpr": "datum.value % 50 === 0 ? format(datum.value,'d') : ''",
                    "labelFont": "Liberation Sans", "labelFontSize": 19, "labelColor": "#222222", "labelPadding": 3, "labelFlush": false,
                    "tickSize": -4, "tickColor": "#333333", "domain": false,
                    "grid": true, "gridColor": "#8c8c8c", "gridWidth": 1.2,
                    "gridOpacity": {"condition": {"test": "datum.value % 50 === 0", "value": 1}, "value": 0},
                    "title": "time[ms]", "titleFont": "Liberation Sans", "titleFontSize": 19, "titleFontWeight": "normal", "titleColor": "#222222", "titlePadding": 6}},
                "y": {"field": "v", "type": "quantitative", "scale": {"domain": [-1, 2], "nice": false, "zero": false},
                  "axis": {"orient": "left", "values": [-1, -0.9, -0.8, -0.7, -0.6, -0.5, -0.4, -0.3, -0.2, -0.1, 0, 0.1, 0.2, 0.3, 0.4, 0.5, 0.6, 0.7, 0.8, 0.9, 1, 1.1, 1.2, 1.3, 1.4, 1.5, 1.6, 1.7, 1.8, 1.9, 2],
                    "labelExpr": "abs(datum.value*2-round(datum.value*2))<0.001 ? format(datum.value,'.2f') : ''",
                    "labelFont": "Liberation Sans", "labelFontSize": 19, "labelColor": "#222222", "labelPadding": 8, "labelFlush": false,
                    "tickSize": -4, "tickColor": "#333333", "domain": false,
                    "grid": true, "gridColor": "#8c8c8c", "gridWidth": 1.2,
                    "gridOpacity": {"condition": {"test": "abs(datum.value*2-round(datum.value*2))<0.001", "value": 1}, "value": 0},
                    "title": "Ip[kA]", "titleFont": "Liberation Sans", "titleFontSize": 19, "titleFontWeight": "normal", "titleColor": "#222222", "titlePadding": 2}},
                "color": {"field": "shot", "type": "nominal",
                  "scale": {"domain": ["#13.5", "#15"], "range": ["#e8307a", "#1a1aaa"]},
                  "legend": {"orient": "none", "legendX": 250, "legendY": -60, "title": null,
                    "fillColor": "white", "strokeColor": "#333333", "padding": 6,
                    "labelFont": "Liberation Sans", "labelFontSize": 19, "labelOffset": 8, "rowPadding": 4,
                    "symbolType": "circle", "symbolSize": 12, "symbolOffset": 5, "symbolStrokeWidth": 0,
                    "encode": {
                      "legend": {"update": {"strokeWidth": {"value": 1.5}}},
                      "labels": {"update": {"fill": {"signal": "datum.value === '#15' ? '#2020c0' : '#e8307a'"}}},
                      "symbols": {"update": {"fill": {"signal": "datum.value === '#15' ? '#2020c0' : '#e8307a'"}}}}}}
              }
            },
            {
              "data": {"values": [{"t": 343, "v": -1.41, "lab": "#15934"}]},
              "mark": {"type": "text", "font": "Liberation Sans", "fontSize": 19, "fill": "#222222", "align": "left", "baseline": "middle"},
              "encoding": {
                "x": {"field": "t", "type": "quantitative", "scale": {"domain": [150, 350], "nice": false, "zero": false}, "axis": null},
                "y": {"field": "v", "type": "quantitative", "scale": {"domain": [-1, 2], "nice": false, "zero": false}, "axis": null},
                "text": {"field": "lab"}
              }
            }
          ]
        }
      ]
    }
  ],
  "config": {
    "view": {"stroke": null},
    "font": "Liberation Sans"
  }
}
